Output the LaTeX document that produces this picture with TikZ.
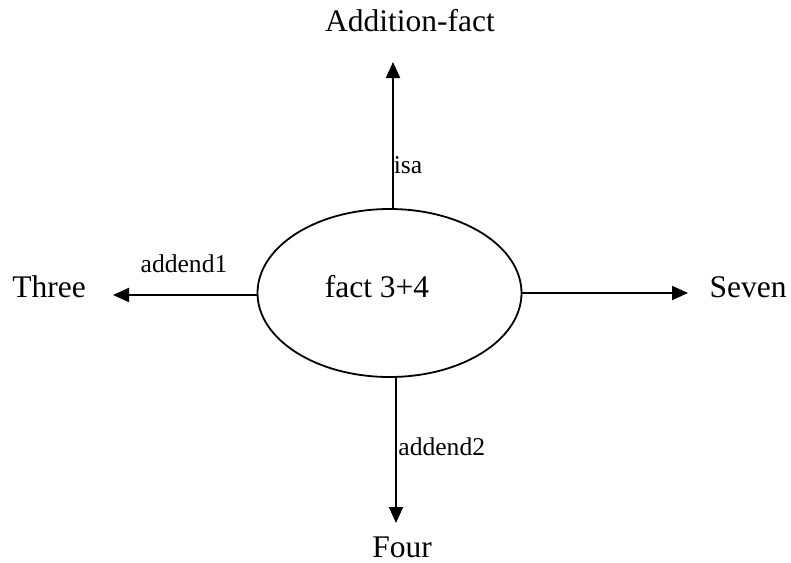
\documentclass[tikz,border=0pt]{standalone}
\usepackage{fontspec}
\setmainfont{Liberation Serif}
\usepackage{tikz}
\usetikzlibrary{arrows.meta,positioning,shapes.geometric}

\begin{document}
\begin{tikzpicture}[
  x=0.5pt, y=-0.5pt,
  concept/.style={font=\fontsize{15.75}{19}\selectfont, inner sep=0pt, anchor=base},
  rel/.style={font=\fontsize{12.8}{15}\selectfont, inner sep=0pt, anchor=base},
  fact/.style={draw, line width=0.9pt, ellipse, minimum width=132pt, minimum height=84pt, inner sep=0pt},
  link/.style={-{Triangle[length=8pt,width=7pt]}, line width=1pt}
]
\useasboundingbox (0,0) rectangle (791,562);

% the fact node and its slots
\node[fact] (fact) at (389.5,293) {};
\node[concept] (factlabel) at (377,297) {fact 3+4};

\node[concept] (addfact) at (410,32) {Addition-fact};
\node[concept] (three) at (49,297) {Three};
\node[concept] (seven) at (748,297) {Seven};
\node[concept] (four) at (402,557) {Four};

\coordinate (isatip) at (393,62);
\coordinate (onetip) at (113,295);
\coordinate (seventip) at (688,293);
\coordinate (twotip) at (396,523);

\draw[link] (fact.north -| isatip) -- (isatip);
\draw[link] (fact.west |- onetip) -- (onetip);
\draw[link] (fact.east |- seventip) -- (seventip);
\draw[link] (fact.south -| twotip) -- (twotip);

\node[rel] (isa) at (408,173) {isa};
\node[rel] (addend1) at (184,272) {addend1};
\node[rel, anchor=base west] (addend2) at (398,455) {addend2};
\end{tikzpicture}
\end{document}
